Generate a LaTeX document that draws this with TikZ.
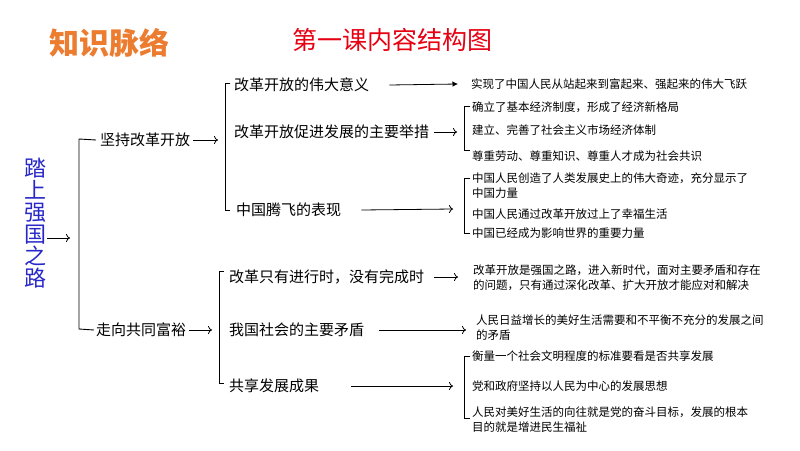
\documentclass[tikz,border=0pt]{standalone}
\usepackage{fontspec}
\setmainfont{Noto Sans CJK SC}
\usepackage{xcolor}
\usepackage{tikz}
\usetikzlibrary{arrows.meta,positioning}

\definecolor{titleorange}{RGB}{236,124,48}
\definecolor{titlered}{RGB}{230,0,18}
\definecolor{rootblue}{RGB}{40,40,200}

\begin{document}
\begin{tikzpicture}[
        x=1pt, y=-1pt,
        lvone/.style={anchor=west, inner sep=0pt, font=\fontsize{15}{18}\selectfont},
        leaf/.style={anchor=west, inner sep=0pt, align=left, font=\fontsize{11.5}{15}\selectfont},
        link/.style={-{To[length=4pt,width=8pt]}, line width=0.8pt},
        longlink/.style={-{Latex[length=5.5pt,width=5.5pt]}, line width=0.8pt},
        brace/.style={line width=0.9pt}
    ]
    \useasboundingbox (0,0) rectangle (800,450);

    % titles
    \node[text=titleorange, font=\fontsize{30}{32}\selectfont\bfseries] (kw) at (109,43) {知识脉络};
    \node[text=titlered, font=\fontsize{25}{28}\selectfont] (ttl) at (392,40) {第一课内容结构图};

    % root
    \node[text=rootblue, align=center, inner sep=0pt,
          font=\fontsize{22}{22}\selectfont] (root) at (35,223) {踏\\上\\强\\国\\之\\路};
    \coordinate (rootend) at (70,238);
    \draw[link] ([xshift=1]root.east |- rootend) -- (rootend);

    % first level
    \node[lvone] (kj) at (100,140) {坚持改革开放};
    \node[lvone] (zx) at (96,330) {走向共同富裕};
    \coordinate (bat) at (79,139);
    \coordinate (bab) at (79,329);
    \draw[brace] ([xshift=-4]kj.west) -- (bat) -- (bab) -- ([xshift=-2]zx.west);

    % second level, upper
    \node[lvone] (ka) at (234,85) {改革开放的伟大意义};
    \node[lvone] (kb) at (234,132) {改革开放促进发展的主要举措};
    \node[lvone] (kc) at (236,210) {中国腾飞的表现};
    \coordinate (kjend) at (218,140);
    \draw[link] ([xshift=3]kj.east) -- (kjend);
    \draw[brace] (230,83) -- (225,83) -- (225,210) -- (230,210);

    % second level, lower
    \node[lvone] (za) at (229,277) {改革只有进行时，没有完成时};
    \node[lvone] (zb) at (229,330) {我国社会的主要矛盾};
    \node[lvone] (zc) at (229,386) {共享发展成果};
    \coordinate (zxend) at (212,330);
    \draw[link] ([xshift=3]zx.east) -- (zxend);
    \draw[brace] (224,271) -- (219,271) -- (219,383) -- (224,383);

    % leaves of kj
    \node[leaf] (ka1) at (471,84) {实现了中国人民从站起来到富起来、强起来的伟大飞跃};
    \draw[longlink] ([xshift=20]ka.east) -- ([xshift=-13]ka1.west);

    \node[leaf] (kb1) at (472,107) {确立了基本经济制度，形成了经济新格局};
    \node[leaf] (kb2) at (472,130) {建立、完善了社会主义市场经济体制};
    \node[leaf] (kb3) at (472,156) {尊重劳动、尊重知识、尊重人才成为社会共识};
    \coordinate (kbend) at (457,132);
    \draw[link] ([xshift=5]kb.east) -- (kbend);
    \draw[brace] (470,106) -- (464,106) -- (464,150) -- (470,150);

    \node[leaf] (kc1) at (472,186) {中国人民创造了人类发展史上的伟大奇迹，充分显示了\\中国力量};
    \node[leaf] (kc2) at (472,214) {中国人民通过改革开放过上了幸福生活};
    \node[leaf] (kc3) at (472,233) {中国已经成为影响世界的重要力量};
    \coordinate (kcend) at (453,209);
    \draw[link] ([xshift=20]kc.east) -- (kcend);
    \draw[brace] (470,178) -- (464,178) -- (464,233) -- (470,233);

    % leaves of zx
    \node[leaf] (za1) at (473,278) {改革开放是强国之路，进入新时代，面对主要矛盾和存在\\的问题，只有通过深化改革、扩大开放才能应对和解决};
    \draw[link] ([xshift=10]za.east) -- ([xshift=-15]za1.west |- za.east);

    \node[leaf] (zb1) at (476,328) {人民日益增长的美好生活需要和不平衡不充分的发展之间\\的矛盾};
    \draw[link] ([xshift=15]zb.east) -- ([xshift=-10]zb1.west |- zb.east);

    \node[leaf] (zc1) at (472,356) {衡量一个社会文明程度的标准要看是否共享发展};
    \node[leaf] (zc2) at (472,386) {党和政府坚持以人民为中心的发展思想};
    \node[leaf] (zc3) at (472,420) {人民对美好生活的向往就是党的奋斗目标，发展的根本\\目的就是增进民生福祉};
    \coordinate (zcend) at (453,386);
    \draw[link] ([xshift=32]zc.east) -- (zcend);
    \draw[brace] (470,356) -- (464,356) -- (464,418) -- (470,418);

\end{tikzpicture}
\end{document}
